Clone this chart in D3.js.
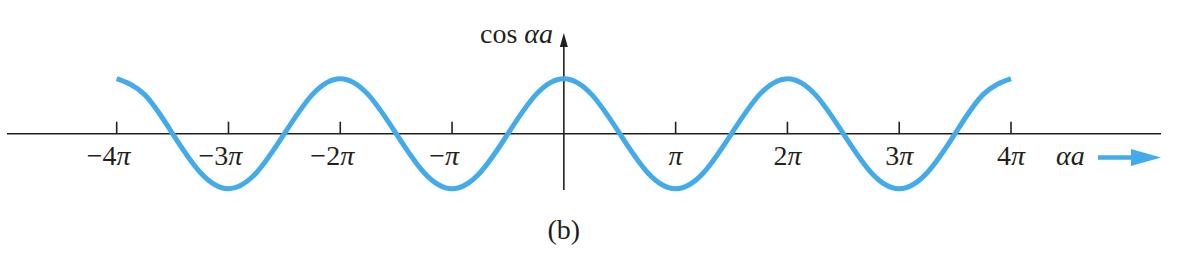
<!DOCTYPE html>
<html>
<head>
<meta charset="utf-8">
<script src="https://cdnjs.cloudflare.com/ajax/libs/d3/7.8.5/d3.min.js"></script>
<style>
  body { margin: 0; background: #fff; }
  text { font-family: "Liberation Serif", "Times New Roman", serif; fill: #231f20; }
</style>
</head>
<body>
<div id="chart"></div>
<script>
// x positions in multiples of pi, and cos value read at each
var xPi = [-4, -3.75, -3.5, -3.25, -3, -2.75, -2.5, -2.25, -2, -1.75, -1.5, -1.25, -1, -0.75, -0.5, -0.25,
           0, 0.25, 0.5, 0.75, 1, 1.25, 1.5, 1.75, 2, 2.25, 2.5, 2.75, 3, 3.25, 3.5, 3.75, 4];
var cosVals = [1, 0.71, 0, -0.71, -1, -0.71, 0, 0.71, 1, 0.71, 0, -0.71, -1, -0.71, 0, 0.71,
               1, 0.71, 0, -0.71, -1, -0.71, 0, 0.71, 1, 0.71, 0, -0.71, -1, -0.71, 0, 0.71, 1];
var tickVals = [-4, -3, -2, -1, 1, 2, 3, 4];
var tickNums = ["\u22124", "\u22123", "\u22122", "\u2212", "", "2", "3", "4"];

var svgWidth = 1187, svgHeight = 262;
var ink = "#231f20", blue = "#44abeb";

var svg = d3.select("#chart").append("svg")
    .attr("width", svgWidth)
    .attr("height", svgHeight);

var x = d3.scaleLinear().domain([-4, 4]).range([116.7, 1011]);
var y = d3.scaleLinear().domain([-1, 1]).range([188.7, 78.7]);

var y0 = y(0);

// horizontal axis line
svg.append("line")
    .attr("x1", 7).attr("x2", 1161)
    .attr("y1", y0).attr("y2", y0)
    .attr("stroke", ink).attr("stroke-width", 1.6);

// ticks + labels
var axisG = svg.append("g");
axisG.selectAll("line.tick")
    .data(tickVals)
    .enter().append("line")
    .attr("class", "tick")
    .attr("x1", d => x(d)).attr("x2", d => x(d))
    .attr("y1", y0 - 12).attr("y2", y0)
    .attr("stroke", ink).attr("stroke-width", 1.6);

var labs = axisG.selectAll("text")
    .data(tickVals)
    .enter().append("text")
    .attr("x", d => x(d))
    .attr("dx", d => d < 0 ? -8 : 0)
    .attr("y", 165)
    .attr("text-anchor", "middle")
    .attr("font-size", "28px");
labs.append("tspan").text((d, i) => tickNums[i]);
labs.append("tspan").attr("font-style", "italic").text("\u03c0");

// vertical axis
svg.append("line")
    .attr("x1", x(0)).attr("x2", x(0))
    .attr("y1", 44).attr("y2", 190)
    .attr("stroke", ink).attr("stroke-width", 1.6);
svg.append("path")
    .attr("d", `M${x(0)},33 L${x(0) - 4},47 L${x(0) + 4},47 Z`)
    .attr("fill", ink);

var ylab = svg.append("text")
    .attr("x", 553).attr("y", 43)
    .attr("text-anchor", "end")
    .attr("font-size", "28px");
ylab.append("tspan").text("cos ");
ylab.append("tspan").attr("font-style", "italic").text("\u03b1a");

// the cosine curve
var line = d3.line()
    .x((d, i) => x(xPi[i]))
    .y(d => y(d))
    .curve(d3.curveNatural);

svg.append("path")
    .datum(cosVals)
    .attr("d", line)
    .attr("fill", "none")
    .attr("stroke", blue)
    .attr("stroke-width", 5);

// x label and blue arrow
svg.append("text")
    .attr("x", 1056).attr("y", 165)
    .attr("font-size", "28px")
    .attr("font-style", "italic")
    .text("\u03b1a");

svg.append("line")
    .attr("x1", 1098).attr("x2", 1134)
    .attr("y1", 157.5).attr("y2", 157.5)
    .attr("stroke", blue).attr("stroke-width", 4.5);
svg.append("path")
    .attr("d", "M1161,157.5 L1131,149 L1131,166 Z")
    .attr("fill", blue);

// caption
svg.append("text")
    .attr("x", x(0)).attr("y", 239)
    .attr("text-anchor", "middle")
    .attr("font-size", "28px")
    .text("(b)");
</script>
</body>
</html>
